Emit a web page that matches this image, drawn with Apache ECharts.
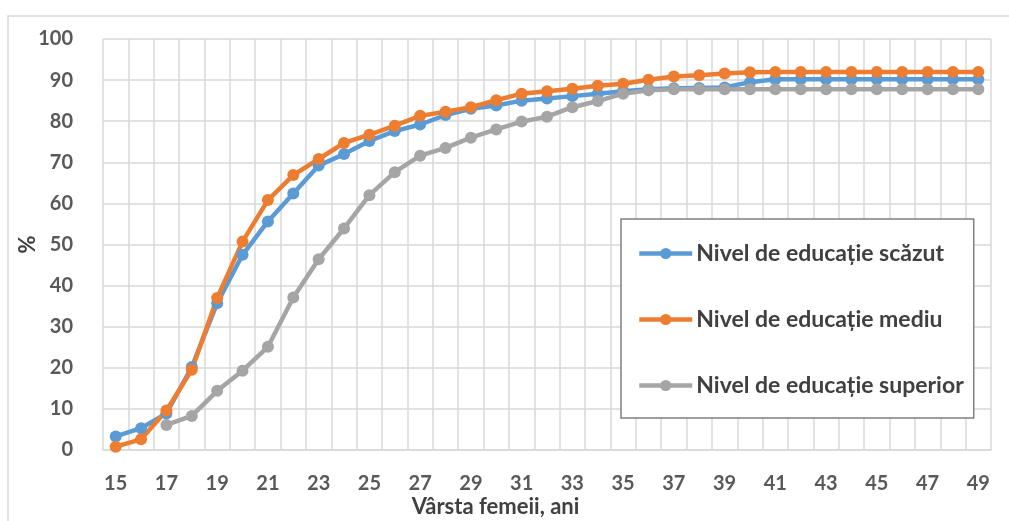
<!DOCTYPE html>
<html>
<head>
<meta charset="utf-8">
<script src="https://cdn.jsdelivr.net/npm/echarts@6/dist/echarts.min.js"></script>
<style>
  html, body { margin: 0; padding: 0; background: #fff; }
  #chart { width: 1009px; height: 521px; }
</style>
</head>
<body>
<div id="chart"></div>
<script>
const ages = ['15','16','17','18','19','20','21','22','23','24','25','26','27','28','29','30','31','32','33','34','35','36','37','38','39','40','41','42','43','44','45','46','47','48','49'];
const seriesNames = ['Nivel de educație scăzut', 'Nivel de educație mediu', 'Nivel de educație superior'];
const lowEdu = [3.3, 5.3, 8.9, 20.2, 35.7, 47.5, 55.6, 62.4, 69.2, 72.0, 75.2, 77.6, 79.2, 81.5, 83.0, 83.8, 85.0, 85.5, 86.1, 86.7, 87.3, 87.8, 88.0, 88.1, 88.2, 89.5, 90.2, 90.2, 90.2, 90.2, 90.2, 90.2, 90.2, 90.2, 90.2];
const midEdu = [0.8, 2.6, 9.6, 19.5, 37.0, 50.7, 60.8, 66.9, 70.8, 74.7, 76.7, 78.9, 81.3, 82.3, 83.4, 85.1, 86.7, 87.3, 87.9, 88.6, 89.1, 90.1, 90.9, 91.2, 91.6, 91.9, 92.0, 92.0, 92.0, 92.0, 92.0, 92.0, 92.0, 92.0, 92.0];
const highEdu = ['-', '-', 6.1, 8.3, 14.4, 19.3, 25.1, 37.1, 46.4, 53.9, 62.0, 67.6, 71.6, 73.5, 76.0, 78.0, 79.9, 81.1, 83.4, 84.9, 86.7, 87.5, 87.8, 87.8, 87.8, 87.8, 87.8, 87.8, 87.8, 87.8, 87.8, 87.8, 87.8, 87.8, 87.8];
const colors = ['#5B9BD5', '#ED7D31', '#A5A5A5'];

const FONT = 'Lato';
const chart = echarts.init(document.getElementById('chart'), null, { renderer: 'canvas' });

function mkSeries(name, data, color) {
  return {
    name: name,
    type: 'line',
    data: data,
    symbol: 'circle',
    symbolSize: 12,
    showSymbol: true,
    connectNulls: false,
    lineStyle: { color: color, width: 4.5 },
    itemStyle: { color: color },
    emphasis: { disabled: true },
    animation: false
  };
}

chart.setOption({
  animation: false,
  graphic: [{
    type: 'rect',
    shape: { x: 8, y: 16, width: 1020, height: 530 },
    style: { fill: 'none', stroke: '#d9d9d9', lineWidth: 1.5 },
    silent: true,
    z: -1
  }],
  grid: { left: 103, right: 18, top: 39, bottom: 71, containLabel: false, outerBoundsMode: 'none' },
  legend: {
    orient: 'vertical',
    left: 621,
    top: 219,
    itemWidth: 53,
    itemHeight: 14,
    itemGap: 43,
    padding: [23, 10, 21, 16],
    borderColor: '#808080',
    borderWidth: 1.5,
    backgroundColor: '#ffffff',
    lineStyle: { width: 4.5 },
    textStyle: { fontFamily: FONT, fontWeight: 'bold', fontSize: 23, color: '#404040', padding: [0, 0, 0, -1] },
    data: seriesNames
  },
  xAxis: {
    type: 'category',
    data: ages,
    boundaryGap: true,
    name: 'Vârsta femeii, ani',
    nameLocation: 'middle',
    nameGap: 46,
    nameMoveOverlap: false,
    nameTextStyle: { fontFamily: FONT, fontWeight: 'bold', fontSize: 22, color: '#404040', padding: [0, 103, 0, 0] },
    axisLine: { show: true, lineStyle: { color: '#d9d9d9', width: 1.5 } },
    axisTick: { show: false, interval: 0 },
    axisLabel: { interval: 1, margin: 24, fontFamily: FONT, fontWeight: 'bold', fontSize: 20, color: '#595959' },
    splitLine: { show: true, interval: 0, lineStyle: { color: '#d9d9d9', width: 1.5 } }
  },
  yAxis: {
    type: 'value',
    min: 0,
    max: 100,
    interval: 10,
    name: '%',
    nameLocation: 'middle',
    nameRotate: 90,
    nameGap: 64,
    nameMoveOverlap: false,
    nameTextStyle: { fontFamily: FONT, fontWeight: 'bold', fontSize: 22, color: '#404040' },
    axisLine: { show: false },
    axisTick: { show: false },
    axisLabel: { margin: 30, fontFamily: FONT, fontWeight: 'bold', fontSize: 20, color: '#595959' },
    splitLine: { show: true, lineStyle: { color: '#d9d9d9', width: 1.5 } }
  },
  series: [
    mkSeries(seriesNames[0], lowEdu, colors[0]),
    mkSeries(seriesNames[1], midEdu, colors[1]),
    mkSeries(seriesNames[2], highEdu, colors[2])
  ]
});
</script>
</body>
</html>
